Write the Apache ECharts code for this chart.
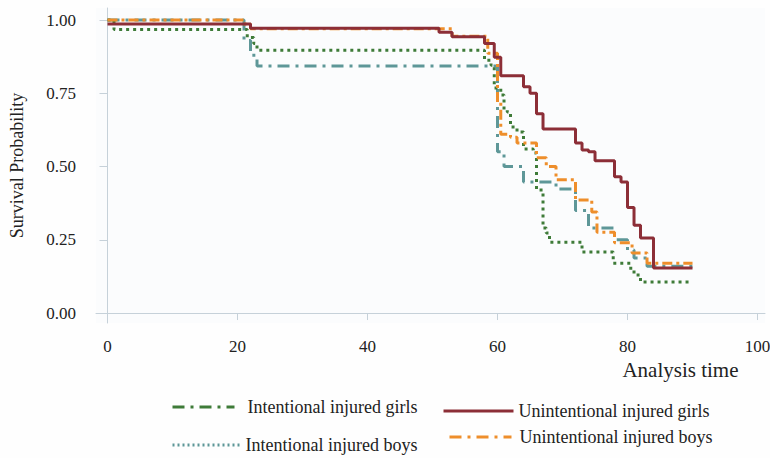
<!DOCTYPE html>
<html>
<head>
<meta charset="utf-8">
<script src="https://cdn.jsdelivr.net/npm/echarts@6/dist/echarts.min.js"></script>
<style>html,body{margin:0;padding:0;background:#fefefe;}#c{width:770px;height:458px;}</style>
</head>
<body>
<div id="c"></div>
<script>
// Data (time, survival probability); step functions
var xTicks = [0, 20, 40, 60, 80, 100];
var yTicks = [0, 0.25, 0.5, 0.75, 1.0];

var intentionalGirls = [[0,1],[21,0.93],[22,0.88],[23,0.843],[60,0.55],[61,0.50],[64,0.447],[69,0.423],[72,0.35],[74,0.29],[78,0.25],[80,0.215],[81,0.188],[83,0.16],[90,0.16]];
var intentionalBoys = [[0,1],[1,0.968],[21.5,0.94],[22.5,0.92],[23,0.897],[58,0.863],[59,0.846],[59.5,0.768],[60.5,0.744],[61,0.693],[61.5,0.686],[62,0.635],[63,0.618],[64,0.56],[65.5,0.546],[66,0.42],[67,0.29],[67.5,0.273],[68,0.242],[73,0.208],[77.8,0.17],[80.5,0.147],[81,0.13],[82,0.106],[90,0.106]];
var unintentionalGirls = [[0,0.986],[22,0.972],[51,0.958],[53,0.943],[58,0.92],[59.5,0.873],[60.5,0.81],[64,0.772],[65,0.75],[66,0.68],[67,0.628],[72,0.58],[73,0.556],[74,0.55],[75,0.52],[78,0.465],[79,0.447],[80,0.36],[81,0.30],[82,0.256],[84,0.154],[90,0.154]];
var unintentionalBoys = [[0,1],[21,0.986],[22,0.97],[53,0.945],[58.5,0.887],[60,0.72],[60.5,0.61],[62,0.60],[63,0.58],[66,0.53],[67.5,0.50],[69,0.455],[72,0.386],[74.5,0.345],[75.3,0.276],[78,0.24],[80.7,0.205],[83,0.17],[90,0.17]];

var names = ['Intentional injured girls','Intentional injured boys','Unintentional injured girls','Unintentional injured boys'];

var FONT = '"Liberation Serif", "DejaVu Serif", serif';
var TEAL = '#5e9798', GREEN = '#3e7b38', MAROON = '#8c2e37', ORANGE = '#ee8e2b';
var AXIS = '#c6d1d9';

var chart = echarts.init(document.getElementById('c'), null, {renderer: 'svg'});

function legendAt(left, top, name, lineStyle, width, pad) {
  return {
    left: left, top: top, orient: 'vertical',
    itemWidth: width, itemHeight: 14,
    data: [{name: name, lineStyle: lineStyle, itemStyle: {opacity: 0}}],
    textStyle: {fontFamily: FONT, fontSize: 18, color: '#222', padding: [0,0,0,pad]},
    selectedMode: false
  };
}

var option = {
  backgroundColor: '#fefefe',
  animation: false,
  grid: {left: 96, right: 5, top: 8, bottom: 135, show: true, backgroundColor: '#fbfcfd', borderWidth: 0, outerBoundsMode: 'none'},
  xAxis: {
    type: 'value', min: -1.77, max: 101.15,
    axisLine: {show: true, lineStyle: {color: AXIS, width: 1}},
    axisTick: {show: true, length: 7, lineStyle: {color: AXIS}, customValues: xTicks},
    axisLabel: {customValues: xTicks, fontFamily: FONT, fontSize: 17, color: '#222', margin: 15},
    splitLine: {show: false},
    name: 'Analysis time', nameLocation: 'middle', nameGap: 36,
    nameTextStyle: {fontFamily: FONT, fontSize: 21, color: '#222', padding: [0,0,0,500]}
  },
  yAxis: {
    type: 'value', min: -0.034, max: 1.041,
    axisLine: {show: true, lineStyle: {color: AXIS, width: 1}},
    axisTick: {show: true, length: 8, lineStyle: {color: AXIS}, customValues: yTicks},
    axisLabel: {customValues: yTicks, fontFamily: FONT, fontSize: 17, color: '#222', margin: 20,
      formatter: function (v) { return v.toFixed(2); }},
    splitLine: {show: false},
    name: 'Survival Probability', nameLocation: 'middle', nameGap: 70,
    nameTextStyle: {fontFamily: FONT, fontSize: 18, color: '#222'}
  },
  legend: [
    legendAt(166, 393, names[0], {color: GREEN, type: [12,6,3,6], width: 3}, 62, 8),
    legendAt(437, 397, names[2], {color: MAROON, type: 'solid', width: 3}, 70, 0),
    legendAt(166, 431, names[1], {color: TEAL, type: [2,3], width: 3}, 68, 0),
    legendAt(443, 423, names[3], {color: ORANGE, type: [12,6,3,6], width: 3}, 62, 3)
  ],
  series: [
    {name: names[0], type: 'line', step: 'end', symbol: 'none', data: intentionalGirls,
      lineStyle: {color: TEAL, width: 3, type: [12,6,3,6]}, itemStyle: {color: TEAL}},
    {name: names[1], type: 'line', step: 'end', symbol: 'none', data: intentionalBoys,
      lineStyle: {color: GREEN, width: 3, type: [3,4]}, itemStyle: {color: GREEN}},
    {name: names[3], type: 'line', step: 'end', symbol: 'none', data: unintentionalBoys,
      lineStyle: {color: ORANGE, width: 3, type: [10,4,3,4]}, itemStyle: {color: ORANGE}},
    {name: names[2], type: 'line', step: 'end', symbol: 'none', data: unintentionalGirls,
      lineStyle: {color: MAROON, width: 3, type: 'solid'}, itemStyle: {color: MAROON}}
  ]
};
chart.setOption(option);
</script>
</body>
</html>
